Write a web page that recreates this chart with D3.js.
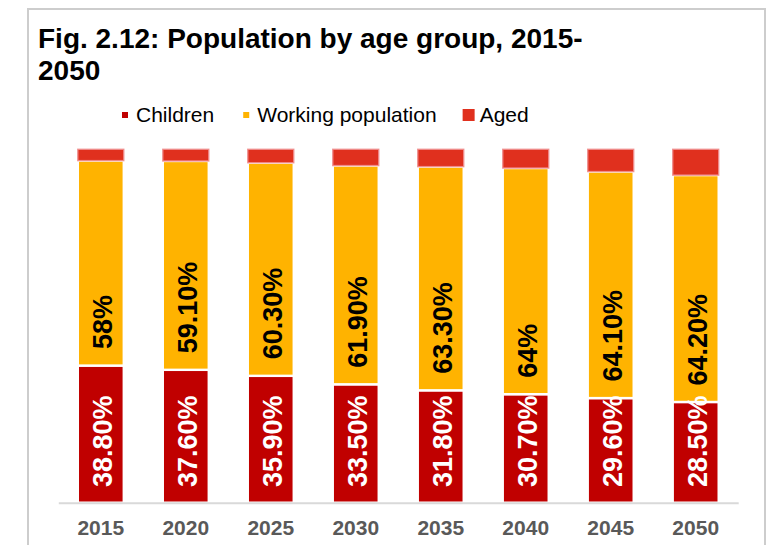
<!DOCTYPE html>
<html>
<head>
<meta charset="utf-8">
<script src="https://cdn.jsdelivr.net/npm/d3@7"></script>
<style>
  html, body { margin: 0; padding: 0; background: #fff; }
  svg { display: block; font-family: "Liberation Sans", Arial, Helvetica, sans-serif; }
</style>
</head>
<body>
<svg id="chart" width="777" height="545"></svg>
<script>
// Population shares (%) by age group
const years = ["2015", "2020", "2025", "2030", "2035", "2040", "2045", "2050"];
const children = [38.8, 37.6, 35.9, 33.5, 31.8, 30.7, 29.6, 28.5];
const working = [58, 59.1, 60.3, 61.9, 63.3, 64, 64.1, 64.2];
const aged = [3.2, 3.3, 3.8, 4.6, 4.9, 5.3, 6.3, 7.3];

const seriesNames = ["Children", "Working population", "Aged"];
const seriesKeys = ["children", "working", "aged"];
const colors = { children: "#C00000", working: "#FFB300", aged: "#E0301E" };

const rows = years.map((y, i) => ({ year: y, children: children[i], working: working[i], aged: aged[i] }));

const svg = d3.select("#chart");

// Outer frame
svg.append("rect")
  .attr("x", 28).attr("y", 9).attr("width", 737).attr("height", 560)
  .attr("fill", "none").attr("stroke", "#cdcdcd").attr("stroke-width", 2);

// Title
const title = svg.append("text")
  .attr("x", 38).attr("y", 48)
  .attr("font-size", 28).attr("font-weight", "bold").attr("fill", "#000");
title.append("tspan").attr("x", 38).attr("y", 48).text("Fig. 2.12: Population by age group, 2015-");
title.append("tspan").attr("x", 38).attr("y", 80).text("2050");

// Scales
const x = d3.scaleBand().domain(years).range([58.3, 738.2]).paddingInner(0.459).paddingOuter(0.2295);
const y = d3.scaleLinear().domain([0, 100]).range([502.7, 149.3]);

const stack = d3.stack().keys(seriesKeys);
const layers = stack(rows);

const gBars = svg.append("g");
layers.forEach(layer => {
  const key = layer.key;
  gBars.append("g")
    .selectAll("rect")
    .data(layer)
    .join("rect")
    .attr("x", d => x(d.data.year))
    .attr("width", x.bandwidth())
    .attr("y", d => y(d[1]))
    .attr("height", d => y(d[0]) - y(d[1]))
    .attr("fill", colors[key])
    .attr("stroke", key === "aged" ? "rgba(240,140,140,0.9)" : "#fff")
    .attr("stroke-width", key === "aged" ? 1.4 : 2.4);
});

// Axis
const axis = d3.axisBottom(x).tickSize(0).tickSizeOuter(0).tickPadding(17.4);
const gAxis = svg.append("g").attr("transform", `translate(0,${y(0)})`).call(axis);
gAxis.select(".domain").attr("stroke", "#d9d9d9").attr("stroke-width", 2);
gAxis.selectAll(".tick text")
  .attr("font-size", 21).attr("font-weight", "bold").attr("fill", "#595959")
  .attr("font-family", "\"Liberation Sans\", Arial, sans-serif");

// Value labels
const fmt = v => Number.isInteger(v) ? v + "%" : v.toFixed(2) + "%";
const gLabels = svg.append("g").attr("font-size", 27).attr("font-weight", "bold");

gLabels.selectAll("text.child")
  .data(rows)
  .join("text")
  .attr("class", "child")
  .attr("transform", d => `translate(${x(d.year) + x.bandwidth() / 2},${y(0) - 15.7}) rotate(-90)`)
  .attr("dy", "0.4em")
  .attr("fill", "#fff")
  .text(d => fmt(d.children));

gLabels.selectAll("text.work")
  .data(rows)
  .join("text")
  .attr("class", "work")
  .attr("transform", d => `translate(${x(d.year) + x.bandwidth() / 2},${y(d.children) - 16.5}) rotate(-90)`)
  .attr("dy", "0.4em")
  .attr("fill", "#000")
  .text(d => fmt(d.working));

// Legend
const markerSize = { children: 6, working: 6, aged: 12 };
let lx = 117;
const gLegend = svg.append("g").attr("font-size", 21).attr("fill", "#000");
seriesKeys.forEach((key, i) => {
  const s = markerSize[key];
  gLegend.append("rect")
    .attr("x", lx + 8 - s / 2).attr("y", 115 - s / 2)
    .attr("width", s).attr("height", s)
    .attr("fill", colors[key]);
  const t = gLegend.append("text")
    .attr("x", lx + 19).attr("y", 121.7)
    .text(seriesNames[i]);
  lx += 19 + t.node().getComputedTextLength() + 24;
});
</script>
</body>
</html>
